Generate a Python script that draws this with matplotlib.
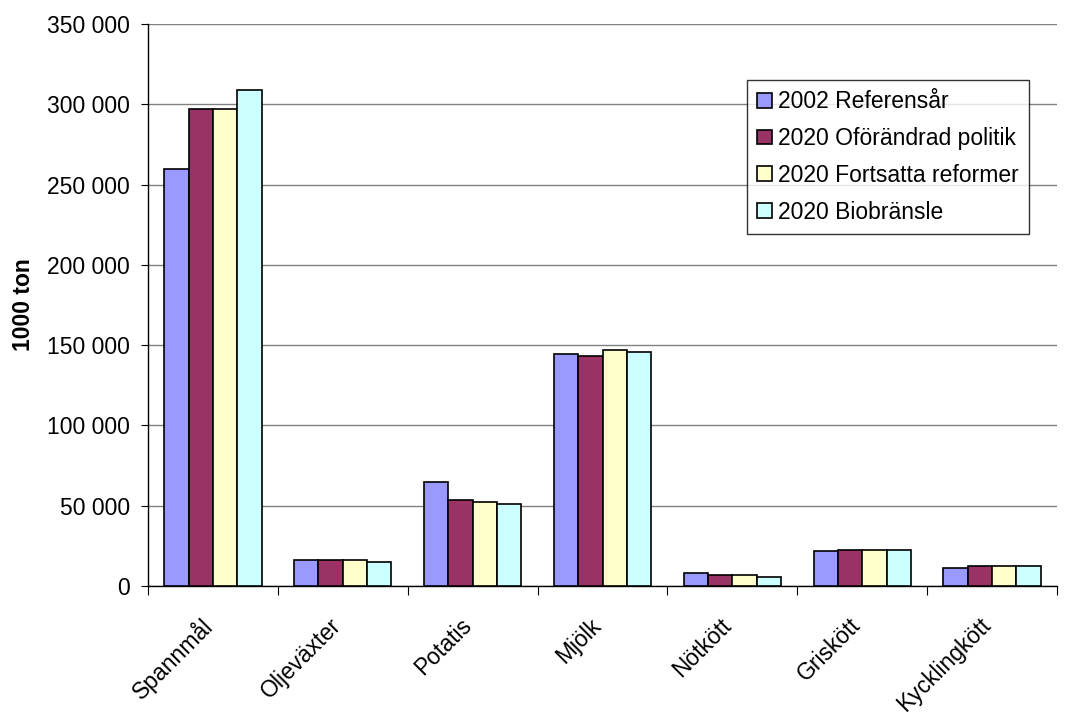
import matplotlib
matplotlib.use("Agg")
import matplotlib.pyplot as plt
import numpy as np
from matplotlib.ticker import FuncFormatter, MultipleLocator
from matplotlib.transforms import ScaledTranslation

categories = ["Spannmål", "Oljeväxter", "Potatis", "Mjölk", "Nötkött", "Griskött", "Kycklingkött"]
series_names = ["2002 Referensår", "2020 Oförändrad politik", "2020 Fortsatta reformer", "2020 Biobränsle"]
ref_2002 = [260000, 16000, 65000, 144700, 8100, 21600, 11400]
oforandrad = [297200, 16000, 53400, 143200, 6700, 22600, 12600]
fortsatta = [297200, 16000, 52300, 147000, 7000, 22600, 12600]
biobransle = [308700, 14800, 51300, 145500, 5600, 22600, 12600]
colors = ["#9999FF", "#993366", "#FFFFCC", "#CCFFFF"]

plt.rcParams['font.family'] = ['Liberation Sans', 'DejaVu Sans']
FS = 16.5

fig = plt.figure(figsize=(10.67, 7.2), dpi=100)
ax = fig.add_axes([148/1067, 1-586/720, (1057-148)/1067, (586-24)/720])

x = np.arange(len(categories))
bw = 0.75/4
data = [ref_2002, oforandrad, fortsatta, biobransle]
for i, (vals, name, c) in enumerate(zip(data, series_names, colors)):
    ax.bar(x - 0.375 + bw*(i+0.5), vals, width=bw, color=c, edgecolor="black",
           linewidth=1.2, label=name, zorder=3)

ax.set_xlim(-0.5, len(categories)-0.5)
ax.set_ylim(0, 350000)
ax.yaxis.set_major_locator(MultipleLocator(50000))
ax.yaxis.set_major_formatter(FuncFormatter(lambda v, p: f"{int(v):,}".replace(",", " ")))
ax.grid(axis='y', color="#808080", linewidth=1, zorder=0)
ax.set_axisbelow(True)

ax.set_xticks(np.arange(len(categories)+1) - 0.5)
ax.set_xticklabels([])
ax.set_xticks(x, minor=True)
ax.set_xticklabels(categories, minor=True, rotation=45, ha='right', rotation_mode='anchor', fontsize=FS)
ax.tick_params(axis='x', which='minor', length=0, pad=20)
ax.tick_params(axis='x', which='major', length=6.5, direction='out', color='black')
ax.tick_params(axis='y', length=5, pad=8, labelsize=FS, direction='out')
for lbl in ax.get_xticklabels(minor=True):
    lbl.set_transform(lbl.get_transform() + ScaledTranslation(-13/100, 0, fig.dpi_scale_trans))

for s in ['top', 'right']:
    ax.spines[s].set_visible(False)
for s in ['left', 'bottom']:
    ax.spines[s].set_color('black')
    ax.spines[s].set_linewidth(1)

ax.set_ylabel("1000 ton", fontsize=FS, fontweight='bold')
ax.yaxis.set_label_coords(-113/909, 0.5)

leg = ax.legend(loc='upper left', bbox_to_anchor=((747-148)/909, (586-80)/562),
                fontsize=FS, frameon=True, fancybox=False, borderpad=0.45,
                handlelength=0.62, handleheight=0.6, handletextpad=0.3, labelspacing=0.6,
                borderaxespad=0)
leg.get_frame().set_edgecolor('black')
leg.get_frame().set_linewidth(1)

fig.savefig("out.png", dpi=100)
